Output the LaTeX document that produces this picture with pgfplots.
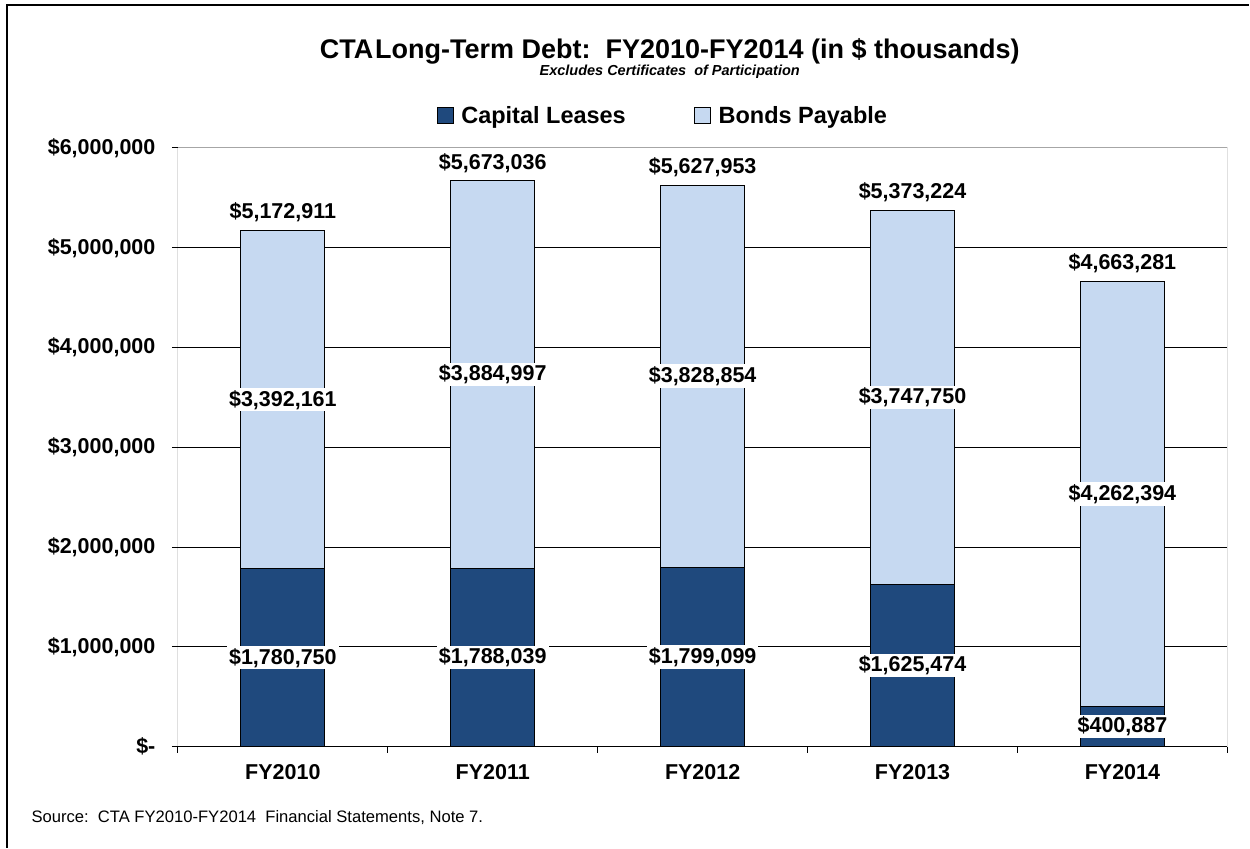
\documentclass[border=0pt]{standalone}
\usepackage{pgfplots}
\pgfplotsset{compat=1.18}
\usepackage{pgfplotstable}
\usepackage{fontspec}
\setmainfont{Liberation Sans}
\definecolor{capcol}{HTML}{1F497D}
\definecolor{bondcol}{HTML}{C6D9F1}

\pgfplotstableread{
x cap bonds total caplab bondlab totlab
0 1780750 3392161 5172911 1,780,750 3,392,161 5,172,911
1 1788039 3884997 5673036 1,788,039 3,884,997 5,673,036
2 1799099 3828854 5627953 1,799,099 3,828,854 5,627,953
3 1625474 3747750 5373224 1,625,474 3,747,750 5,373,224
4 400887 4262394 4663281 400,887 4,262,394 4,663,281
}\data

\begin{document}
\begin{tikzpicture}[x=1pt,y=1pt]
\path (0,0) rectangle (1250,848);
\draw[black,line width=1.2pt] (7,0) -- (7,843) -- (1250,843);

\node[font=\fontsize{27}{32}\selectfont\bfseries] at (670,797) {CTA\hspace{2pt}Long-Term Debt:\ \ FY2010-FY2014 (in \$ thousands)};
\node[font=\fontsize{14.5}{17}\selectfont\bfseries\itshape] at (670,776) {Excludes Certificates\ \ of Participation};
\node[font=\fontsize{16.6}{19}\selectfont, anchor=west] at (28,30) {Source:\ \ CTA FY2010-FY2014\ \ Financial Statements, Note 7.};

\begin{axis}[
  at={(178pt,101pt)}, anchor=south west,
  scale only axis, width=1050pt, height=599pt,
  xmin=-0.5, xmax=4.5, ymin=0, ymax=6000000,
  axis line style={draw=none},
  scaled y ticks=false,
  xtick pos=bottom, ytick pos=left,
  ytick={0,1000000,2000000,3000000,4000000,5000000,6000000},
  yticklabels={{\$-\hspace{12pt}},{\$1,000,000},{\$2,000,000},{\$3,000,000},{\$4,000,000},{\$5,000,000},{\$6,000,000}},
  ymajorgrids, grid style={black, line width=0.9pt},
  tick align=outside, major tick length=6pt,
  tick style={black, line width=0.9pt},
  xtick={-0.5,0.5,1.5,2.5,3.5,4.5}, xticklabels={},
  extra x ticks={0,1,2,3,4},
  extra x tick labels={FY2010,FY2011,FY2012,FY2013,FY2014},
  extra x tick style={major tick length=0pt, grid=none},
  ticklabel style={font=\fontsize{21.5}{25}\selectfont\bfseries},
  yticklabel style={xshift=-13pt},
  xticklabel style={yshift=-14pt},
  legend style={at={(0.462,1.053)}, anchor=center, draw=none, fill=none,
    font=\fontsize{23.5}{27}\selectfont\bfseries, legend columns=2,
    /tikz/every odd column/.append style={column sep=6pt},
    /tikz/every even column/.append style={column sep=66pt}},
  legend image code/.code={\draw[#1,draw=black,line width=0.8pt] (0pt,-7pt) rectangle (16pt,9pt);},
  nodes near coords style={font=\fontsize{21.5}{25}\selectfont\bfseries},
]
\addplot[ybar, bar shift=0pt, bar width=0.4, fill=bondcol, draw=black, line width=0.9pt, forget plot]
  table[x=x, y=total] {\data};
\addplot[ybar, bar shift=0pt, bar width=0.4, fill=capcol, draw=black, line width=0.9pt]
  table[x=x, y=cap] {\data};
\addlegendentry{Capital Leases}
\addlegendimage{fill=bondcol}
\addlegendentry{Bonds Payable}

\addplot[draw=none, mark=none, forget plot, point meta=explicit symbolic,
  nodes near coords={\$\pgfplotspointmeta}, nodes near coords align={center},
  every node near coord/.append style={anchor=center, fill=white, inner xsep=2pt, inner ysep=2pt}]
  table[x=x, y expr=\thisrow{cap}/2, meta=caplab] {\data};
\addplot[draw=none, mark=none, forget plot, point meta=explicit symbolic,
  nodes near coords={\$\pgfplotspointmeta}, nodes near coords align={center},
  every node near coord/.append style={anchor=center, fill=white, inner xsep=2pt, inner ysep=2pt}]
  table[x=x, y expr=\thisrow{cap}+\thisrow{bonds}/2, meta=bondlab] {\data};
\addplot[draw=none, mark=none, forget plot, point meta=explicit symbolic,
  nodes near coords={\$\pgfplotspointmeta},
  every node near coord/.append style={anchor=south, yshift=6pt, inner sep=2pt}]
  table[x=x, y=total, meta=totlab] {\data};

\draw[gray!70, line width=1pt] (rel axis cs:0,1) -- (rel axis cs:1,1) -- (rel axis cs:1,0);
\draw[black, line width=1pt] (rel axis cs:0,1) -- (rel axis cs:0,0) -- (rel axis cs:1,0);
\end{axis}
\end{tikzpicture}
\end{document}
